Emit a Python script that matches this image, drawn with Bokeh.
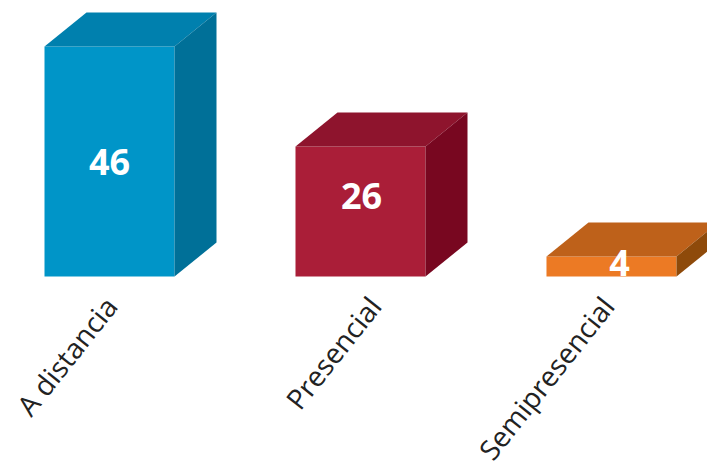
from bokeh.plotting import figure
from bokeh.models import Range1d
from bokeh.core.properties import value
from bokeh.embed import file_html
from bokeh.resources import INLINE

categories = ["A distancia", "Presencial", "Semipresencial"]
counts = [46, 26, 4]
front_colors = ["#0095C8", "#AA1E38", "#EC7A24"]
top_colors = ["#0080AE", "#8E142D", "#BE611A"]
side_colors = ["#007098", "#780720", "#8E4A0A"]

# geometry (data units)
xs = [0, 1, 2]
bar_w = 0.518
dx = 0.1673
dy = 6.8

p = figure(width=707, height=463, output_backend="svg", toolbar_location=None,
           x_range=Range1d(-0.4343, 2.3825), y_range=Range1d(-37.4, 55.2),
           x_axis_location=None, y_axis_location=None, min_border=0,
           background_fill_color="white", border_fill_color="white")
p.outline_line_color = None
p.grid.visible = False

lefts = [x - bar_w / 2 for x in xs]
rights = [x + bar_w / 2 for x in xs]

p.quad(left=lefts, right=rights, bottom=0, top=counts, fill_color=front_colors,
       line_color=None)

top_x = [[l, r, r + dx, l + dx] for l, r in zip(lefts, rights)]
top_y = [[v, v, v + dy, v + dy] for v in counts]
p.patches(top_x, top_y, fill_color=top_colors, line_color=None)

side_x = [[r, r + dx, r + dx, r] for r in rights]
side_y = [[0, dy, v + dy, v] for v in counts]
p.patches(side_x, side_y, fill_color=side_colors, line_color=None)

# value labels
lab_dx = [0, 1, 8]
lab_dy = [0, 16, 4]
for x, v, ox, oy in zip(xs, counts, lab_dx, lab_dy):
    p.text(x=[x], y=[v / 2], text=[str(v)], x_offset=ox, y_offset=-oy,
           text_color="white", text_font=value("Open Sans"), text_font_style="bold",
           text_font_size="36px", text_align="center", text_baseline="middle")

# category labels
cat_dx = [1, 14, -4]
for x, c, ox in zip(xs, categories, cat_dx):
    p.text(x=[x], y=[-4.8], text=[c], x_offset=ox, angle=0.9,
           text_color="#222222", text_font=value("Open Sans"), text_font_size="28px",
           text_align="right", text_baseline="alphabetic")

open("out.html", "w").write(file_html(p, INLINE))
